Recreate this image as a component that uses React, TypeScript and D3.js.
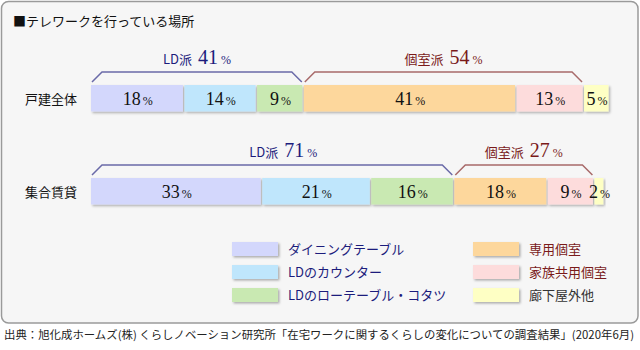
import React from "react";
import * as d3 from "d3";

const title = "■テレワークを行っている場所";
const rowLabels = ["戸建全体", "集合賃貸"];
const categories = [
  "ダイニングテーブル",
  "LDのカウンター",
  "LDのローテーブル・コタツ",
  "専用個室",
  "家族共用個室",
  "廊下屋外他",
];
const values = [
  [18, 14, 9, 41, 13, 5],
  [33, 21, 16, 18, 9, 2],
];
const groupNames = ["LD派", "個室派"];
// [first segment index, end index (exclusive)]
const groupRanges = [
  [0, 3],
  [3, 5],
];
const groupTotals = [
  [41, 54],
  [71, 27],
];
const source =
  "出典：旭化成ホームズ(株) くらしノベーション研究所「在宅ワークに関するくらしの変化についての調査結果」(2020年6月)";

const colors = ["#d3d7fc", "#bfe6fc", "#c9e9b2", "#fdd79c", "#fddcdc", "#feffc4"];
const legendTextColors = ["#1c1c7c", "#1c1c7c", "#1c1c7c", "#7a1a1a", "#7a1a1a", "#333"];
const groupLineColors = ["#6a6aa8", "#a86a6a"];
const groupTextColors = ["#1c1c7c", "#7a1a1a"];

const JP = "'Noto Sans CJK JP', 'Noto Sans', sans-serif";
const SERIF = "'Liberation Serif', 'DejaVu Serif', serif";

export default function App() {
  const W = 640;
  const H = 350;
  const x = d3.scaleLinear().domain([0, 100]).range([91, 610]);
  const rowY = d3.scaleOrdinal<number, number>().domain([0, 1]).range([85, 178]);
  const barH = 28;
  const labelShift = [
    [0, 0],
    [11, 0],
  ];

  return (
    <svg
      width={W}
      height={H}
      style={{ position: "absolute", left: 0, top: 0, background: "#fff" }}
    >
      <defs>
        <filter id="sh" x="-10%" y="-20%" width="130%" height="160%">
          <feDropShadow dx="1.5" dy="1.5" stdDeviation="0.8" floodColor="#000" floodOpacity="0.3" />
        </filter>
      </defs>
      <rect x={1.5} y={1.5} width={636.5} height={321.5} rx={7} fill="#f6f6f6" stroke="#9a9a9a" strokeWidth={1.5} />
      <text x={13} y={26} fontFamily={JP} fontSize={13} fill="#111">
        {title}
      </text>

      {values.map((row, ri) => {
        const y0 = rowY(ri);
        const cum = d3.cumsum([0, ...row]);
        return (
          <g key={ri}>
            <text x={25} y={y0 + 19} fontFamily={JP} fontSize={13} fill="#111">
              {rowLabels[ri]}
            </text>
            {row.map((v, i) => {
              const xa = x(cum[i]);
              const xb = x(cum[i + 1]);
              return (
                <rect
                  key={i}
                  x={xa}
                  y={y0}
                  width={Math.max(1, xb - xa - 1.5)}
                  height={barH - 1.5}
                  fill={colors[i]}
                  filter="url(#sh)"
                />
              );
            })}
            {row.map((v, i) => {
              const cx = (x(cum[i]) + x(cum[i + 1])) / 2;
              return (
                <text key={i} x={cx} y={y0 + 20} textAnchor="middle" fontFamily={SERIF} fill="#111">
                  <tspan fontSize={18}>{v}</tspan>
                  <tspan fontSize={12} dx={2}>%</tspan>
                </text>
              );
            })}
            {groupRanges.map((g, gi) => {
              const xa = x(cum[g[0]]) + 1;
              const xb = x(cum[g[1]]) - 2;
              const base = y0 - 3;
              const top = y0 - 13;
              const path = d3.path();
              path.moveTo(xa, base);
              path.lineTo(xa + 10, top);
              path.lineTo(xb - 10, top);
              path.lineTo(xb, base);
              return (
                <g key={gi}>
                  <path d={path.toString()} fill="none" stroke={groupLineColors[gi]} strokeWidth={1.5} />
                  <text
                    x={(xa + xb) / 2 + labelShift[ri][gi]}
                    y={y0 - 21}
                    textAnchor="middle"
                    fill={groupTextColors[gi]}
                  >
                    <tspan fontFamily={JP} fontSize={13}>{groupNames[gi]}</tspan>
                    <tspan fontFamily={SERIF} fontSize={20} dx={6}>{groupTotals[ri][gi]}</tspan>
                    <tspan fontFamily={SERIF} fontSize={12} dx={3}>%</tspan>
                  </text>
                </g>
              );
            })}
          </g>
        );
      })}

      {categories.map((c, i) => {
        const col = Math.floor(i / 3);
        const r = i % 3;
        const sx = col === 0 ? 232 : 473;
        const sy = 242 + r * 23;
        return (
          <g key={c}>
            <rect x={sx} y={sy} width={46} height={14} fill={colors[i]} filter="url(#sh)" />
            <text x={sx + 56} y={sy + 12} fontFamily={JP} fontSize={13} fill={legendTextColors[i]}>
              {c}
            </text>
          </g>
        );
      })}

      <text
        x={4}
        y={339}
        fontFamily={JP}
        fontSize={11.2}
        fill="#222"
        textLength={630}
        lengthAdjust="spacingAndGlyphs"
      >
        {source}
      </text>
    </svg>
  );
}
